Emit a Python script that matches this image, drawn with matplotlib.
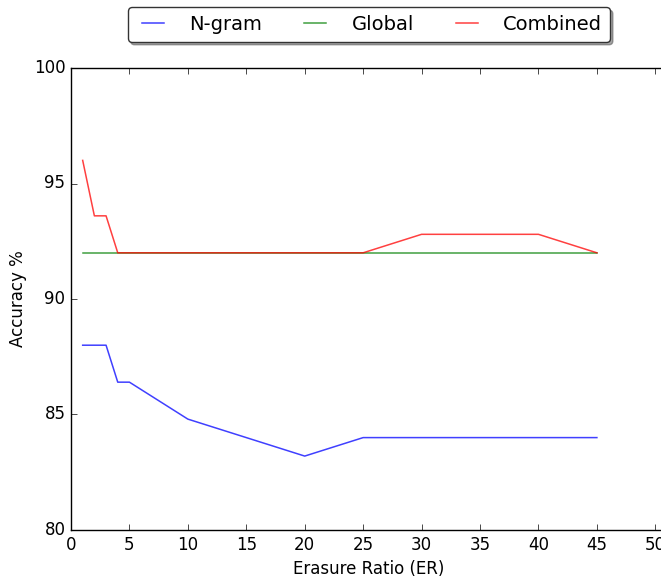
import matplotlib
matplotlib.use("Agg")
import matplotlib.pyplot as plt

plt.style.use("classic")

erasure = [1, 2, 3, 4, 5, 10, 15, 20, 25, 30, 35, 40, 45]
ngram = [88, 88, 88, 86.4, 86.4, 84.8, 84.0, 83.2, 84, 84, 84, 84, 84]
global_acc = [92] * 13
combined = [96, 93.6, 93.6, 92, 92, 92, 92, 92, 92, 92.8, 92.8, 92.8, 92]

fig = plt.figure(figsize=(6.61, 5.78), dpi=100, facecolor="white")
ax = fig.add_axes([71 / 661, 48 / 578, 596 / 661, 462 / 578])

ax.plot(erasure, ngram, color="b", alpha=0.75, lw=1.1, label="N-gram")
ax.plot(erasure, global_acc, color="g", alpha=0.75, lw=1.1, label="Global")
ax.plot(erasure, combined, color="r", alpha=0.75, lw=1.1, label="Combined")

ax.set_xlim(0, 51)
ax.set_ylim(80, 100)
ax.set_xticks(range(0, 51, 5))
ax.set_yticks(range(80, 101, 5))
ax.set_xlabel("Erasure Ratio (ER)")
ax.set_ylabel("Accuracy %")

leg = ax.legend(loc="lower center", bbox_to_anchor=(0.5, 0.0563 + 1.0), ncol=3,
                shadow=True, fancybox=True, fontsize=14, borderaxespad=0,
                handlelength=1.75, handletextpad=1.0, columnspacing=1.85)
leg.get_frame().set_edgecolor("#333333")

fig.savefig("out.png", dpi=100, facecolor="white")
